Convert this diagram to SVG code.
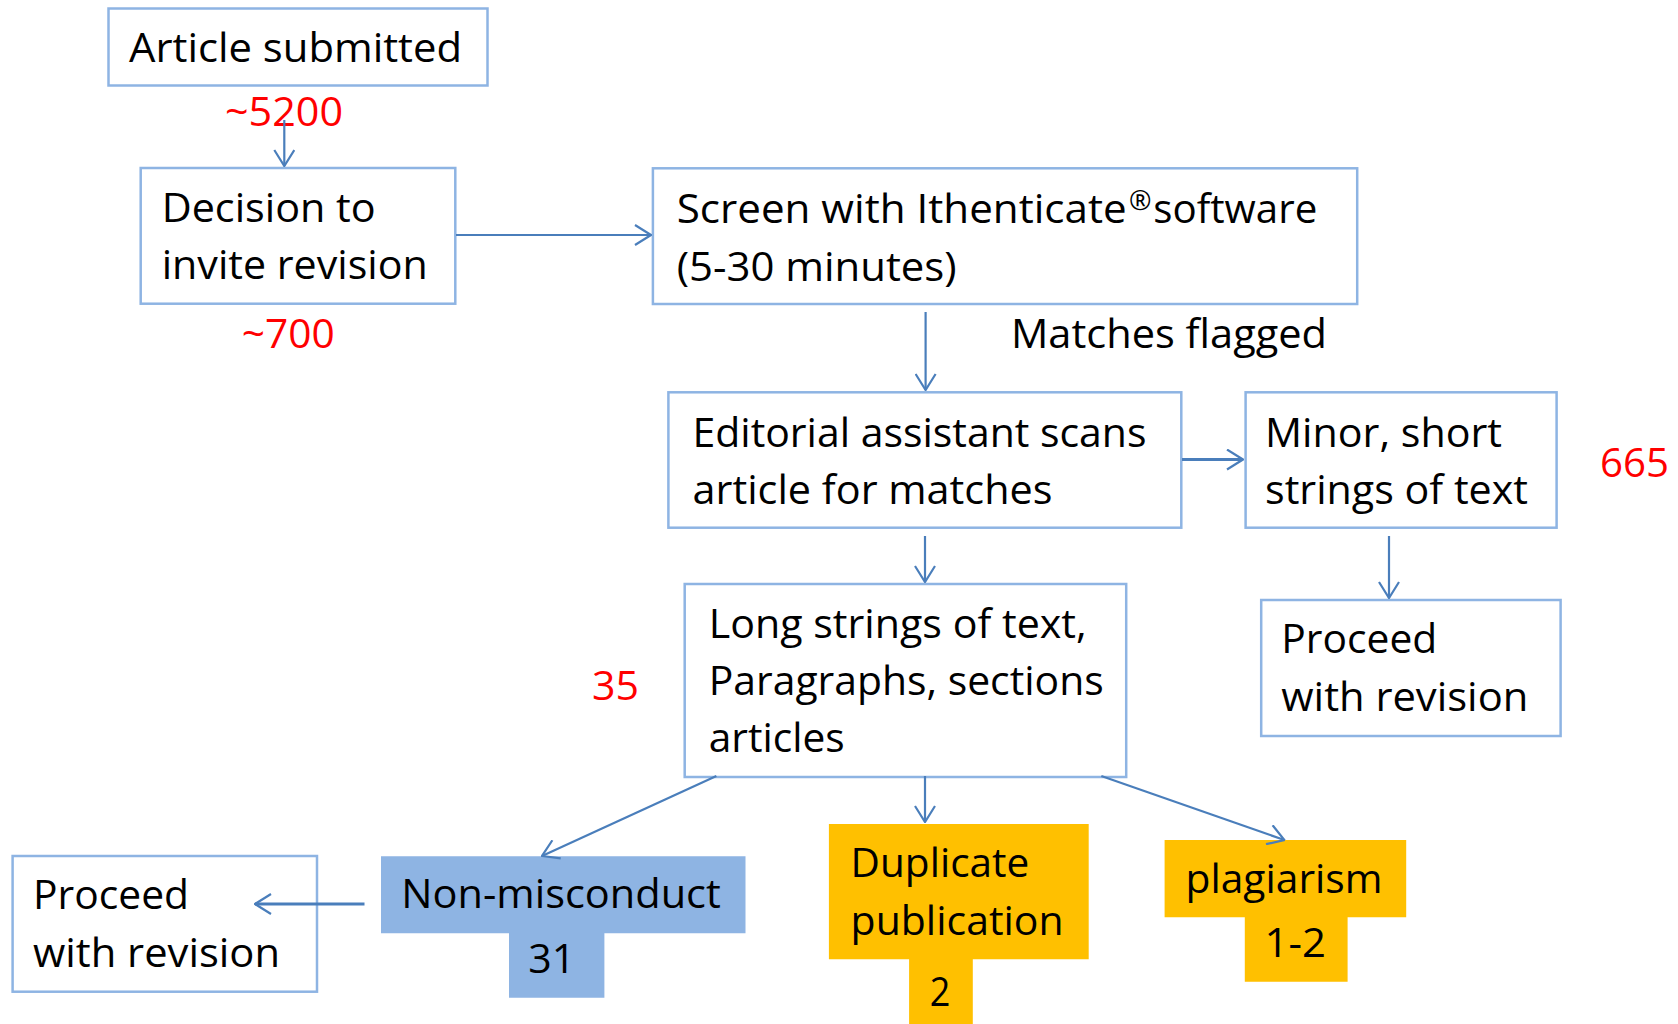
<svg xmlns="http://www.w3.org/2000/svg" width="1678" height="1024" viewBox="0 0 1678 1024">
<style>
.box{fill:#fff;stroke:#8EB4E3;stroke-width:2.5}
.t{font-family:"Open Sans","Noto Sans","Liberation Sans",sans-serif;font-size:41px;fill:#000}
.r{fill:#FF0000}
.c{stroke:#4A7EBB;stroke-width:2.2;fill:none;marker-end:url(#ah)}
</style>
<defs>
<marker id="ah" markerUnits="userSpaceOnUse" viewBox="0 0 18 22" refX="17" refY="11" markerWidth="18" markerHeight="22" orient="auto">
<path d="M1,1 L17,11 L1,21" fill="none" stroke="#4A7EBB" stroke-width="2.2"/>
</marker>
</defs>
<rect width="1678" height="1024" fill="#fff"/>
<g id="article">
<rect class="box" x="108.5" y="8.5" width="379" height="77"/>
<text class="t" x="129" y="62" textLength="333" lengthAdjust="spacingAndGlyphs">Article submitted</text>
</g>
<g id="count5200"><text class="t r" x="225" y="125.7" textLength="118" lengthAdjust="spacingAndGlyphs">~5200</text></g>
<g id="decision">
<rect class="box" x="140.7" y="168" width="314.6" height="135.7"/>
<text class="t" x="161.7" y="221.7" textLength="214" lengthAdjust="spacingAndGlyphs">Decision to</text>
<text class="t" x="161.7" y="279.3" textLength="266" lengthAdjust="spacingAndGlyphs">invite revision</text>
</g>
<g id="count700"><text class="t r" x="241.7" y="348" textLength="93" lengthAdjust="spacingAndGlyphs">~700</text></g>
<g id="screen">
<rect class="box" x="652.9" y="168.3" width="704.3" height="135.7"/>
<text class="t" y="223.3"><tspan x="676.7" textLength="450" lengthAdjust="spacingAndGlyphs">Screen with Ithenticate</tspan><tspan x="1129" y="210" font-size="27">®</tspan><tspan x="1153.3" y="223.3" textLength="164" lengthAdjust="spacingAndGlyphs">software</tspan></text>
<text class="t" x="676.7" y="281" textLength="280" lengthAdjust="spacingAndGlyphs">(5-30 minutes)</text>
</g>
<g id="matches"><text class="t" x="1011" y="348" textLength="316" lengthAdjust="spacingAndGlyphs">Matches flagged</text></g>
<g id="editorial">
<rect class="box" x="668.4" y="392.3" width="512.9" height="135.4"/>
<text class="t" x="692.5" y="446.7" textLength="454" lengthAdjust="spacingAndGlyphs">Editorial assistant scans</text>
<text class="t" x="692.5" y="504" textLength="360" lengthAdjust="spacingAndGlyphs">article for matches</text>
</g>
<g id="minor">
<rect class="box" x="1245.6" y="392.3" width="311" height="135.4"/>
<text class="t" x="1265" y="446.7" textLength="237" lengthAdjust="spacingAndGlyphs">Minor, short</text>
<text class="t" x="1265" y="504" textLength="263" lengthAdjust="spacingAndGlyphs">strings of text</text>
</g>
<g id="count665"><text class="t r" x="1600" y="476.7" textLength="69" lengthAdjust="spacingAndGlyphs">665</text></g>
<g id="long">
<rect class="box" x="684.7" y="584" width="441.5" height="193"/>
<text class="t" x="708.7" y="638.3" textLength="378" lengthAdjust="spacingAndGlyphs">Long strings of text,</text>
<text class="t" x="708.7" y="695" textLength="395" lengthAdjust="spacingAndGlyphs">Paragraphs, sections</text>
<text class="t" x="708.7" y="751.7" textLength="136" lengthAdjust="spacingAndGlyphs">articles</text>
</g>
<g id="count35"><text class="t r" x="592" y="700" textLength="47" lengthAdjust="spacingAndGlyphs">35</text></g>
<g id="proceed-right">
<rect class="box" x="1261.2" y="600" width="299.4" height="136"/>
<text class="t" x="1281.3" y="653.3" textLength="156" lengthAdjust="spacingAndGlyphs">Proceed</text>
<text class="t" x="1281.3" y="710.7" textLength="247" lengthAdjust="spacingAndGlyphs">with revision</text>
</g>
<g id="proceed-left">
<rect class="box" x="12.6" y="856" width="304.4" height="135.7"/>
<text class="t" x="33" y="909.3" textLength="156" lengthAdjust="spacingAndGlyphs">Proceed</text>
<text class="t" x="33" y="967.3" textLength="247" lengthAdjust="spacingAndGlyphs">with revision</text>
</g>
<g id="non-misconduct">
<path d="M381,856.3 H745.5 V933.3 H604.4 V997.7 H509 V933.3 H381 Z" fill="#8EB4E3"/>
<text class="t" x="401.3" y="908.3" textLength="319.5" lengthAdjust="spacingAndGlyphs">Non-misconduct</text>
<text class="t" x="528.3" y="973.3" textLength="47" lengthAdjust="spacingAndGlyphs">31</text>
</g>
<g id="duplicate">
<path d="M828.9,824 H1088.7 V959.3 H972.8 V1024 H909.1 V959.3 H828.9 Z" fill="#FFC000"/>
<text class="t" x="850.6" y="877.3" textLength="178.7" lengthAdjust="spacingAndGlyphs">Duplicate</text>
<text class="t" x="850.6" y="935" textLength="213" lengthAdjust="spacingAndGlyphs">publication</text>
<text class="t" x="929.7" y="1006" textLength="20.6" lengthAdjust="spacingAndGlyphs">2</text>
</g>
<g id="plagiarism">
<path d="M1164.6,840 H1406.2 V917.3 H1347.6 V981.7 H1244.8 V917.3 H1164.6 Z" fill="#FFC000"/>
<text class="t" x="1185.5" y="893.3" textLength="197" lengthAdjust="spacingAndGlyphs">plagiarism</text>
<text class="t" x="1264.6" y="956.7" textLength="61.4" lengthAdjust="spacingAndGlyphs">1-2</text>
</g>
<g id="connectors">
<line class="c" x1="284.3" y1="120" x2="284.3" y2="166"/>
<line class="c" x1="456" y1="235" x2="651" y2="235"/>
<line class="c" x1="925.6" y1="312" x2="925.6" y2="390"/>
<line class="c" x1="1182" y1="459.5" x2="1243" y2="459.5" style="stroke-width:3"/>
<line class="c" x1="925" y1="536" x2="925" y2="582"/>
<line class="c" x1="1389" y1="536" x2="1389" y2="598"/>
<line class="c" x1="716.4" y1="776" x2="542" y2="856"/>
<line class="c" x1="925" y1="776" x2="925" y2="822"/>
<line class="c" x1="1101.3" y1="776" x2="1284.4" y2="840"/>
<line class="c" x1="364.5" y1="904" x2="255" y2="904" style="stroke-width:3"/>
</g>
</svg>
